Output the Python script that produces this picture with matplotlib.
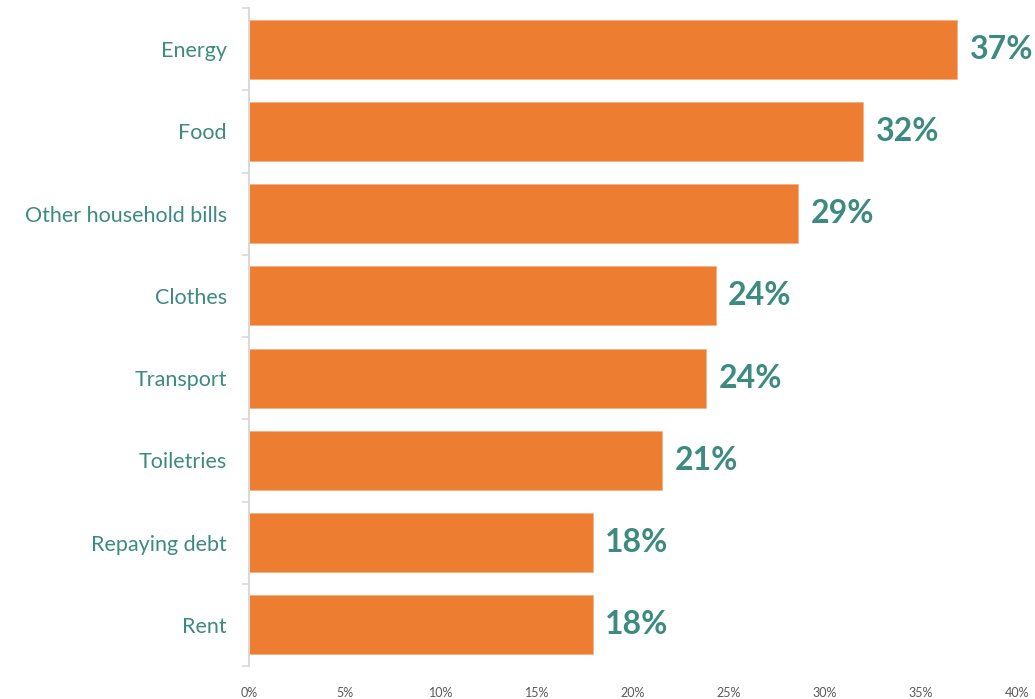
import matplotlib.pyplot as plt
import matplotlib.ticker as mticker

# data
categories = ['Energy', 'Food', 'Other household bills', 'Clothes',
              'Transport', 'Toiletries', 'Repaying debt', 'Rent']
values = [36.9, 32.0, 28.6, 24.3, 23.8, 21.5, 17.9, 17.9]
labels = ['37%', '32%', '29%', '24%', '24%', '21%', '18%', '18%']
xticks = [0, 5, 10, 15, 20, 25, 30, 35, 40]

orange = '#ED7D31'
teal = '#3D8B80'
grey = '#D9D9D9'

plt.rcParams['font.family'] = ['Lato', 'DejaVu Sans']

fig = plt.figure(figsize=(10.35, 6.99), dpi=100)
ax = fig.add_axes([249 / 1035, 33 / 699, 768 / 1035, 658 / 699])

ypos = list(range(len(categories)))
ax.barh(ypos, values, height=0.72, color=orange, edgecolor='#F4B183',
        linewidth=0.6)

# value labels at the end of each bar
for y, v, lab in zip(ypos, values, labels):
    ax.text(v + 0.65, y, lab, va='center', ha='left', fontsize=23,
            fontweight='bold', color=teal)

ax.set_xlim(0, 40)
ax.set_ylim(len(categories) - 0.5, -0.5)

ax.set_yticks(ypos)
ax.set_yticklabels(categories, fontsize=15.5, color=teal)
ax.yaxis.set_minor_locator(mticker.FixedLocator(
    [i - 0.5 for i in range(len(categories) + 1)]))
ax.tick_params(axis='y', which='major', length=0, pad=16)
ax.tick_params(axis='y', which='minor', length=5, width=1.2, color=grey)

ax.set_xticks(xticks)
ax.xaxis.set_major_formatter(mticker.FuncFormatter(lambda x, p: f'{x:.0f}%'))
ax.tick_params(axis='x', length=0, labelsize=9, labelcolor='#595959', pad=15)

for side in ['top', 'right', 'bottom']:
    ax.spines[side].set_visible(False)
ax.spines['left'].set_color(grey)
ax.spines['left'].set_linewidth(1.5)

plt.savefig('out.png', dpi=100)
